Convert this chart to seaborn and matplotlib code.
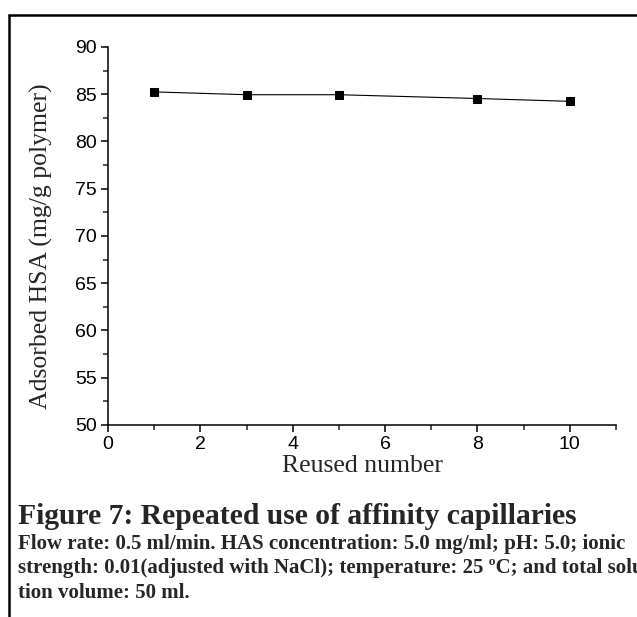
import numpy as np
import pandas as pd
import matplotlib as mpl
import matplotlib.pyplot as plt
from matplotlib.lines import Line2D
from matplotlib.ticker import MultipleLocator
import seaborn as sns

# data
reused = [1, 3, 5, 8, 10]
adsorbed = [85.25, 84.95, 84.95, 84.55, 84.25]

title_txt = "Figure 7: Repeated use of affinity capillaries"
caption_lines = [
    "Flow rate: 0.5 ml/min. HAS concentration: 5.0 mg/ml; pH: 5.0; ionic",
    "strength: 0.01(adjusted with NaCl); temperature: 25 \u00baC; and total solu-",
    "tion volume: 50 ml.",
]

sns.set_style("ticks")
mpl.rcParams['font.family'] = ['Liberation Sans', 'DejaVu Sans']

df = pd.DataFrame({"reused": reused, "adsorbed": adsorbed})

W, H = 637, 617
fig = plt.figure(figsize=(W / 100, H / 100), dpi=100, facecolor='w')
ax = fig.add_axes([108 / W, 1 - 425 / H, (616 - 108) / W, (425 - 47) / H])

sns.lineplot(data=df, x="reused", y="adsorbed", ax=ax, color='k', lw=0.8,
             marker='s', markersize=6, markeredgecolor='k', markerfacecolor='k')

ax.set_xlim(0, 11)
ax.set_ylim(50, 90)
ax.xaxis.set_major_locator(MultipleLocator(2))
ax.xaxis.set_minor_locator(MultipleLocator(1))
ax.yaxis.set_major_locator(MultipleLocator(5))
ax.yaxis.set_minor_locator(MultipleLocator(2.5))
ax.tick_params(which='major', direction='out', length=5, width=1.1, labelsize=14, pad=3, colors='k')
ax.tick_params(which='minor', direction='out', length=3.5, width=1.1)
for s in ['left', 'bottom']:
    ax.spines[s].set_linewidth(1.1)
    ax.spines[s].set_color('k')
sns.despine(ax=ax)

ax.set_xlabel("Reused number", family='Liberation Serif', fontsize=18.5, labelpad=1)
ax.set_ylabel("Adsorbed HSA (mg/g polymer)", family='Liberation Serif', fontsize=18.5, labelpad=13)
ax.yaxis.set_label_coords(-0.108, 0.474)

# frame lines round the figure panel
fig.add_artist(Line2D([8.5 / W, 8.5 / W], [0, 1 - 15 / H], transform=fig.transFigure, color='k', lw=1.8))
fig.add_artist(Line2D([8.5 / W, 1], [1 - 15 / H, 1 - 15 / H], transform=fig.transFigure, color='k', lw=1.8))

fig.text(18 / W, 1 - 524 / H, title_txt, family='Liberation Serif', weight='bold',
         fontsize=21.3, va='baseline', ha='left')
for i, line in enumerate(caption_lines):
    fig.text(18 / W, 1 - (549 + 24.5 * i) / H, line, family='Liberation Serif', weight='bold',
             fontsize=15, va='baseline', ha='left')

fig.savefig("out.png", dpi=100, facecolor='w')
